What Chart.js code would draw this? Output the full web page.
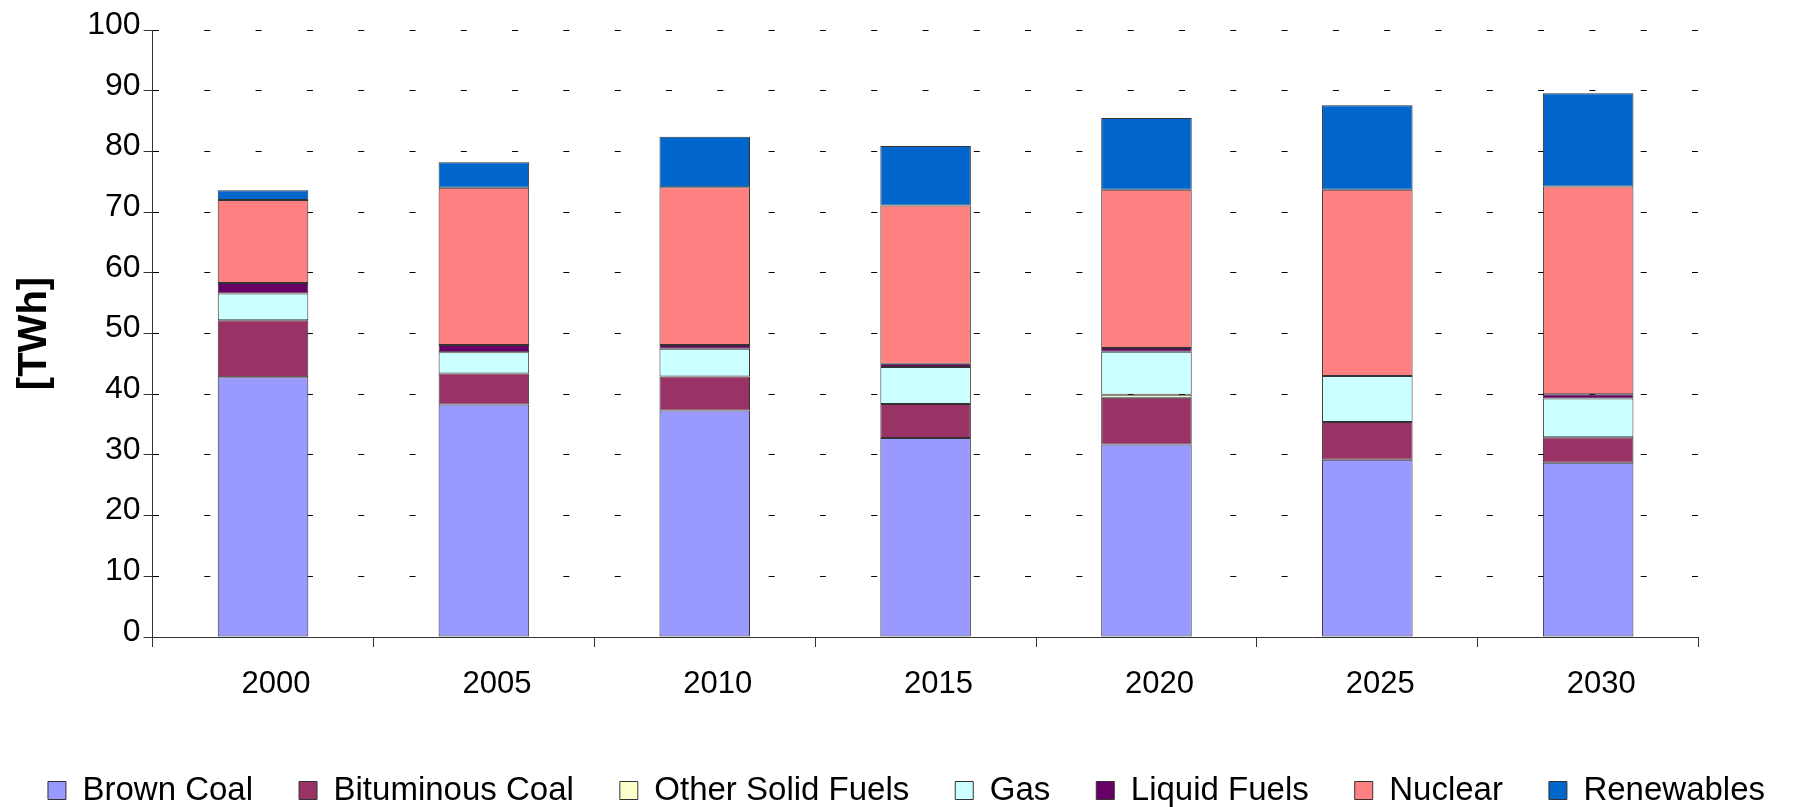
<!DOCTYPE html>
<html lang="en">
<head>
  <meta charset="UTF-8">
  <title>Electricity Generation [TWh]</title>
  <script src="https://cdn.jsdelivr.net/npm/chart.js"></script>
  <style>
    body {
      margin: 0;
      padding: 0;
      background: #fff;
      overflow: hidden;
    }

    .chart-box {
      width: 1813px;
      height: 807px;
    }
  </style>
</head>
<body>

  <div class="chart-box"><canvas id="genChart"></canvas></div>

  <script>
    const years = ['2000', '2005', '2010', '2015', '2020', '2025', '2030'];

    const brownCoal       = [42.8, 38.3, 37.3, 32.8, 31.7, 29.2, 28.7];
    const bituminousCoal  = [9.4, 5.1, 5.6, 5.6, 7.7, 6.2, 4.2];
    const otherSolidFuels = [0, 0, 0, 0, 0.5, 0, 0];
    const gas             = [4.4, 3.5, 4.6, 6.1, 7.1, 7.6, 6.4];
    const liquidFuels     = [1.7, 1.2, 0.6, 0.5, 0.6, 0, 0.7];
    const nuclear         = [13.7, 25.9, 26.0, 26.1, 26.1, 30.7, 34.2];
    const renewables      = [1.6, 4.2, 8.3, 9.8, 11.8, 13.9, 15.4];

    const yTicks = { min: 0, max: 100, step: 10 };

    const FONT = "'Liberation Sans', Arial, sans-serif";

    function makeSet(label, data, color) {
      return {
        label,
        data,
        backgroundColor: color,
        borderColor: '#333',
        borderWidth: 1,
        borderSkipped: false,
        barPercentage: 0.41,
        categoryPercentage: 1.0
      };
    }

    const chart = new Chart(document.getElementById('genChart'), {
      type: 'bar',
      data: {
        labels: years,
        datasets: [
          makeSet('Brown Coal', brownCoal, '#9999ff'),
          makeSet('Bituminous Coal', bituminousCoal, '#993366'),
          makeSet('Other Solid Fuels', otherSolidFuels, '#ffffcc'),
          makeSet('Gas', gas, '#ccffff'),
          makeSet('Liquid Fuels', liquidFuels, '#660066'),
          makeSet('Nuclear', nuclear, '#ff8080'),
          makeSet('Renewables', renewables, '#0066cc')
        ]
      },
      options: {
        responsive: true,
        maintainAspectRatio: false,
        animation: false,
        layout: {
          padding: { left: 0, right: 0, top: 30, bottom: -10 }
        },
        scales: {
          x: {
            stacked: true,
            border: { display: true, color: '#333', width: 1 },
            grid: {
              display: true,
              offset: true,
              drawOnChartArea: false,
              drawTicks: true,
              tickLength: 10,
              tickColor: '#333',
              tickBorderDash: []
            },
            ticks: {
              color: '#000',
              font: { family: FONT, size: 31 },
              padding: 19,
              labelOffset: 13,
              maxRotation: 0,
              minRotation: 0
            },
            afterFit(scale) { scale.height = 91; }
          },
          y: {
            stacked: true,
            min: yTicks.min,
            max: yTicks.max,
            border: { display: true, color: '#333', width: 1, dash: [6, 45.3], dashOffset: 0 },
            grid: {
              color: '#000',
              lineWidth: 1,
              drawTicks: true,
              tickLength: 9,
              tickColor: '#333',
              tickBorderDash: []
            },
            ticks: {
              stepSize: yTicks.step,
              color: '#000',
              font: { family: FONT, size: 32 },
              padding: 3,
              labelOffset: -5
            },
            title: {
              display: true,
              text: '[TWh]',
              color: '#000',
              font: { family: FONT, size: 40, weight: 'bold' },
              padding: { top: 11, bottom: 0 }
            },
            afterFit(scale) { scale.width = 152.6; }
          },
          // empty right-hand spacer so the legend can use the full width
          spacer: {
            type: 'linear',
            position: 'right',
            display: true,
            grid: { display: false },
            border: { display: false },
            ticks: { display: false },
            afterFit(scale) { scale.width = 114.4; }
          }
        },
        plugins: {
          legend: {
            display: true,
            position: 'bottom',
            labels: {
              color: '#000',
              font: { family: FONT, size: 33 },
              boxWidth: 18,
              boxHeight: 18,
              padding: 46
            }
          },
          tooltip: { enabled: false }
        }
      }
    });
  </script>
</body>
</html>
